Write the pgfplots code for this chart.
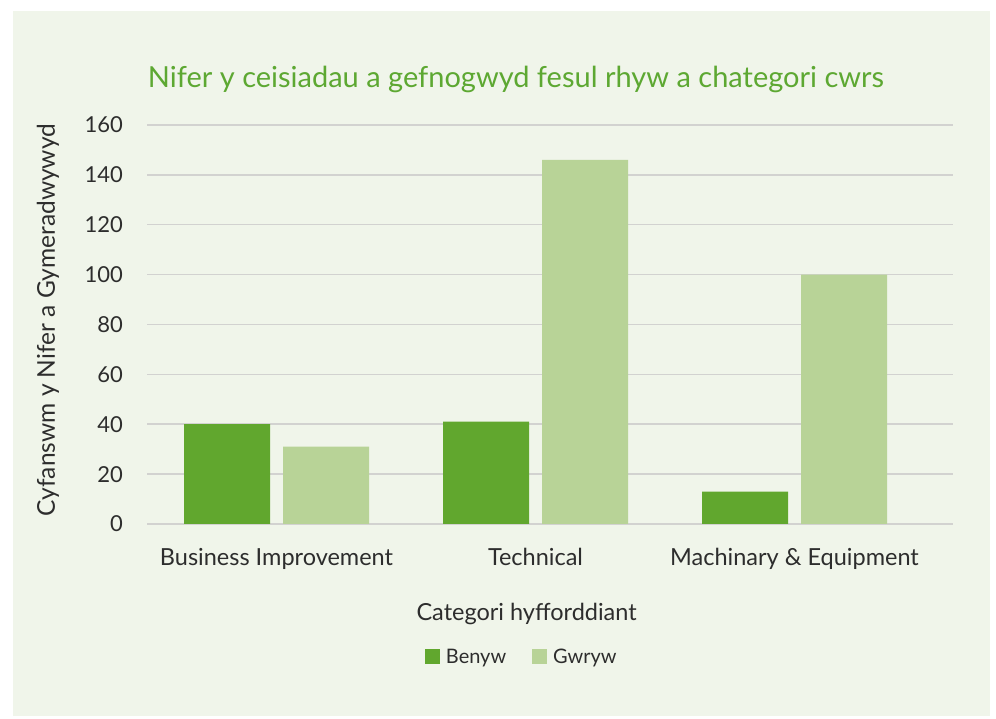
\documentclass[border=0pt]{standalone}
\usepackage{fontspec}
\setmainfont{Lato}
\usepackage{pgfplots}
\pgfplotsset{compat=1.18}
\definecolor{panel}{RGB}{240,245,234}
\definecolor{darkg}{RGB}{97,167,46}
\definecolor{lightg}{RGB}{184,211,151}
\definecolor{titleg}{RGB}{93,168,50}
\definecolor{txt}{RGB}{45,45,45}
\definecolor{gridc}{RGB}{210,210,208}
\begin{document}
\begin{tikzpicture}[x=1bp,y=1bp]
\useasboundingbox (0,0) rectangle (996,719);
\fill[white] (0,0) rectangle (996,719);
\fill[panel] (13,3) rectangle (990,708);
\node[text=titleg, font=\fontsize{29bp}{33bp}\selectfont, anchor=center] at (516,640) {Nifer y ceisiadau a gefnogwyd fesul rhyw a chategori cwrs};
\begin{axis}[
  at={(147bp,195bp)}, anchor=south west,
  scale only axis, width=806bp, height=399bp,
  ybar, bar width=86bp,
  xmin=-0.5, xmax=2.612, ymin=0, ymax=160,
  ytick={0,20,...,160},
  xtick={0,1,2},
  xticklabels={Business Improvement, Technical, Machinary \& Equipment},
  ymajorgrids, grid style={gridc, line width=1.5bp},
  axis line style={draw=none},
  major tick length=0pt,
  /pgf/number format/assume math mode=true,
  tick label style={font=\fontsize{22bp}{26bp}\selectfont, text=txt},
  yticklabel style={anchor=east, inner sep=0pt, xshift=-24bp},
  xticklabel style={anchor=base, inner sep=0pt, yshift=-42bp, font=\fontsize{23.5bp}{27bp}\selectfont},
  xlabel={Categori hyfforddiant},
  ylabel={Cyfanswm y Nifer a Gymeradwywyd},
  label style={font=\fontsize{23.5bp}{27bp}\selectfont, text=txt},
  xlabel style={at={(axis description cs:0.471,-0.2256)}, anchor=center},
  ylabel style={at={(axis description cs:-0.1228,0.511)}, anchor=center, font=\fontsize{24.5bp}{28bp}\selectfont},
  legend columns=2,
  legend style={at={(0.465,-0.333)}, anchor=center, draw=none, fill=none,
    font=\fontsize{20bp}{24bp}\selectfont, text=txt,
    /tikz/every odd column/.append style={column sep=4bp},
    /tikz/every even column/.append style={column sep=24bp}},
  legend image code/.code={\fill[#1] (0bp,-7.5bp) rectangle (15bp,7.5bp);},
]
\addplot[fill=darkg, draw=none, bar shift=-49.5bp] coordinates {(0,40) (1,41) (2,13)};
\addplot[fill=lightg, draw=none, bar shift=49.5bp] coordinates {(0,31) (1,146) (2,100)};
\legend{Benyw, Gwryw}
\end{axis}
\end{tikzpicture}
\end{document}
